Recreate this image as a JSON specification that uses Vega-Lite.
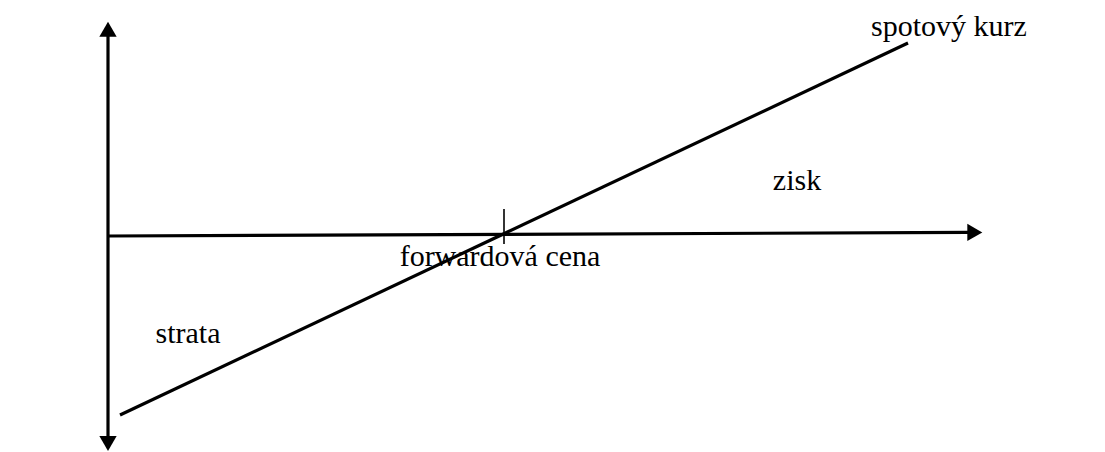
{
  "$schema": "https://vega.github.io/schema/vega-lite/v6.json",
  "width": 1105,
  "height": 452,
  "autosize": {"type": "fit", "contains": "padding"},
  "padding": 0,
  "background": "white",
  "config": {"view": {"stroke": null}},
  "datasets": {
    "lines": [
      {"seg": "vertical axis", "x": 0, "y": 49.5, "o": 1},
      {"seg": "vertical axis", "x": 0, "y": -51, "o": 2},
      {"seg": "horizontal axis", "x": 0, "y": -0.5, "o": 1},
      {"seg": "horizontal axis", "x": 215, "y": 0.4, "o": 2},
      {"seg": "spot", "x": 3, "y": -45.25, "o": 1},
      {"seg": "spot", "x": 200, "y": 47.75, "o": 2}
    ],
    "tick": [{"x": 99, "y": 6.25, "y2": -2.5}],
    "arrows": [
      {"x": 0, "y": 51.19, "dir": "triangle-up"},
      {"x": 0, "y": -52.4, "dir": "triangle-down"},
      {"x": 216.7, "y": 0.4, "dir": "triangle-right"}
    ],
    "labels": [
      {"label": "spotový kurz", "x": 210.25, "y": 49.5},
      {"label": "zisk", "x": 172.25, "y": 11},
      {"label": "forwardová cena", "x": 98, "y": -8},
      {"label": "strata", "x": 20, "y": -27.25}
    ]
  },
  "layer": [
    {
      "data": {"name": "lines"},
      "mark": {"type": "line", "color": "black", "strokeWidth": 3.2},
      "encoding": {
        "x": {"field": "x", "type": "quantitative", "scale": {"domain": [-27, 249.25], "nice": false, "zero": false}, "axis": null},
        "y": {"field": "y", "type": "quantitative", "scale": {"domain": [-54.5, 58.5], "nice": false, "zero": false}, "axis": null},
        "detail": {"field": "seg"},
        "order": {"field": "o"}
      }
    },
    {
      "data": {"name": "tick"},
      "mark": {"type": "rule", "color": "black", "strokeWidth": 1.6},
      "encoding": {
        "x": {"field": "x", "type": "quantitative"},
        "y": {"field": "y", "type": "quantitative"},
        "y2": {"field": "y2"}
      }
    },
    {
      "data": {"name": "arrows"},
      "mark": {"type": "point", "filled": true, "color": "black", "opacity": 1, "size": 300},
      "encoding": {
        "x": {"field": "x", "type": "quantitative"},
        "y": {"field": "y", "type": "quantitative"},
        "shape": {"field": "dir", "type": "nominal", "scale": null, "legend": null}
      }
    },
    {
      "data": {"name": "labels"},
      "mark": {"type": "text", "font": "Liberation Serif", "fontSize": 30, "align": "center", "baseline": "alphabetic", "color": "black"},
      "encoding": {
        "x": {"field": "x", "type": "quantitative"},
        "y": {"field": "y", "type": "quantitative"},
        "text": {"field": "label"},
        "font": {"value": "Liberation Serif"}
      }
    }
  ]
}
